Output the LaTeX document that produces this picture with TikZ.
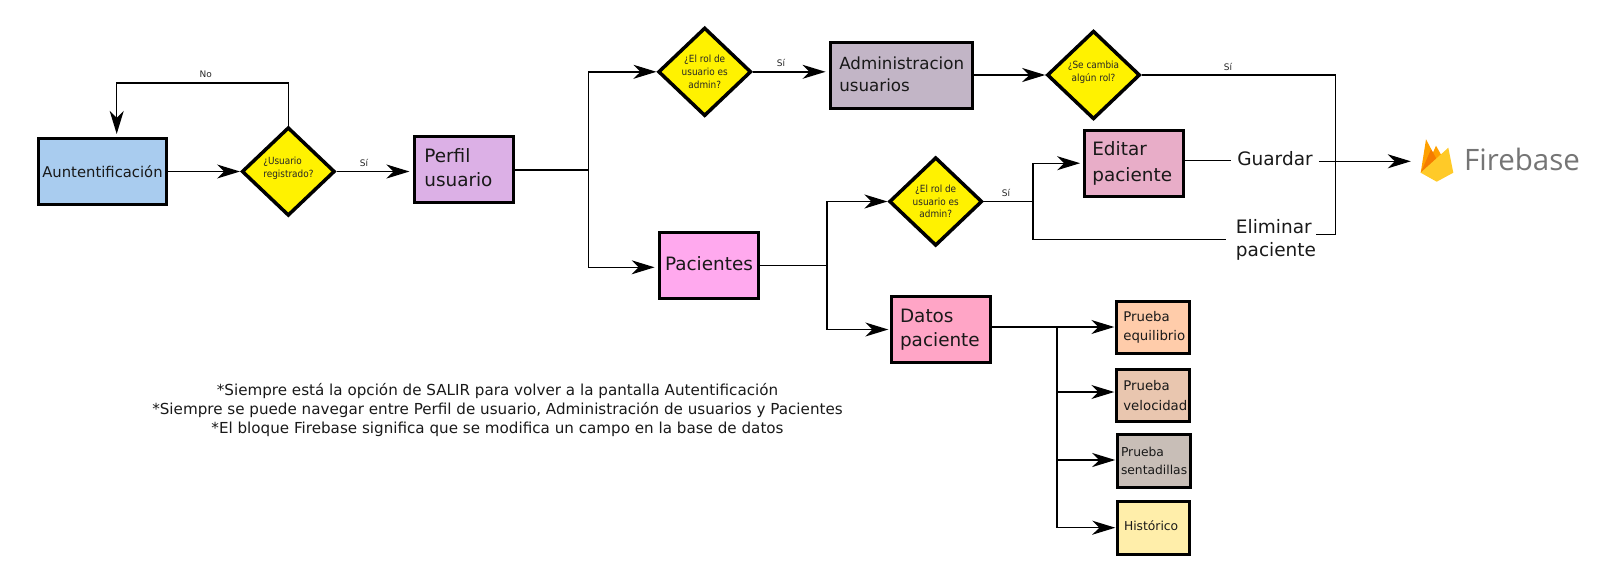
\documentclass[tikz,border=0pt]{standalone}
\usepackage{fontspec}
\setmainfont{DejaVu Sans}
\newfontfamily\dfont[FakeStretch=0.9]{DejaVu Sans}
\newfontfamily\fbfont{Open Sans}
\usetikzlibrary{arrows.meta,shapes.geometric,calc}
\definecolor{cAuth}{HTML}{A9CCEF}
\definecolor{cPerfil}{HTML}{DCB0E6}
\definecolor{cAdmin}{HTML}{C2B5C6}
\definecolor{cPac}{HTML}{FFA9EE}
\definecolor{cDatos}{HTML}{FFA5C6}
\definecolor{cEdit}{HTML}{E8ADC8}
\definecolor{cEq}{HTML}{FFCCAA}
\definecolor{cVel}{HTML}{E9C6AF}
\definecolor{cSen}{HTML}{C8BEB7}
\definecolor{cHis}{HTML}{FFEEAA}
\definecolor{cFbGray}{HTML}{757575}
\tikzset{
  x=1pt,y=-1pt,
  big/.style={font=\fontsize{18.4}{23.5}\selectfont},
  mid/.style={font=\fontsize{16.7}{22}\selectfont},
  auth/.style={font=\fontsize{14.8}{18}\selectfont},
  small/.style={font=\fontsize{13.3}{19.3}\selectfont},
  smaller/.style={font=\fontsize{12.3}{17.7}\selectfont},
  boxnode/.style n args={4}{draw=black,line width=3pt,fill=#4,rectangle,
    minimum width={#1pt+1.5pt},minimum height={#2pt+1.5pt},inner ysep=0pt,inner xsep=#3pt,
    text width={#1pt-2*#3pt},align=left,text=black!90,
    execute at begin node={\hyphenpenalty=10000\exhyphenpenalty=10000}},
  dia/.style={draw=black,line width=3.5pt,fill=yellow,diamond,shape aspect=1,
    inner sep=0pt,minimum width=93pt,minimum height=88.5pt},
  dtext/.style={font=\dfont\fontsize{9.9}{12.6}\selectfont,align=center,inner sep=0pt,text=black!85,line width=0pt},
  lab/.style={font=\fontsize{9}{11}\selectfont,inner sep=0pt,text=black!85},
  free/.style={font=\fontsize{18.5}{23.3}\selectfont,inner sep=0pt,align=left,text=black!90},
  conn/.style={draw=black,line width=1.4pt,-{Stealth[length=23pt,width=14pt,inset=7pt]}},
  wire/.style={draw=black,line width=1.4pt},
  thickwire/.style={draw=black,line width=2.2pt},
}
\begin{document}
\begin{tikzpicture}
\useasboundingbox (0,0) rectangle (1614,566);
% boxes
\node[boxnode={126.7}{63.6}{3.5}{cAuth},auth] (auth) at (102.2,171.5) {Auntentificación};
\node[boxnode={97.3}{64}{9.1}{cPerfil},big] (perfil) at (463.9,169.5) {Perfil\\usuario\par\vspace{4pt}};
\node[boxnode={141}{64}{8.5}{cAdmin},mid] (admin) at (901.3,75.5) {Administracion\\usuarios\par\vspace{3pt}};
\node[boxnode={97.7}{64.3}{5.2}{cPac},big] (pac) at (708.7,265.4) {Pacientes\par\vspace{4pt}};
\node[boxnode={97.3}{64}{7.5}{cDatos},big] (datos) at (941.2,329.5) {Datos\\paciente};
\node[boxnode={97.7}{64.7}{7.5}{cEdit},big] (editar) at (1133.7,163.2) {\vspace*{3pt}Editar\\paciente};
\node[boxnode={71.3}{51.4}{5.8}{cEq},small] (eq) at (1153.2,327.5) {Prueba\\equilibrio};
\node[boxnode={71.3}{51.4}{5.8}{cVel},small] (vel) at (1153.2,395.5) {Prueba\\velocidad};
\node[boxnode={71}{51.3}{2.5}{cSen},smaller] (sen) at (1154,461.2) {Prueba\\sentadillas};
\node[boxnode={70.5}{51.7}{5.5}{cHis},smaller] (his) at (1153.8,527.7) {Histórico\par\vspace{4pt}};
% diamonds
\node[dia,label={[dtext,yshift=3pt]center:\parbox{50pt}{\raggedright\hspace{0pt}¿Usuario\\registrado?}}] (d1) at (288.3,171.5) {};
\node[dia,label={[dtext]center:{¿El rol de\\usuario es\\admin?}}] (d2) at (704.7,71.8) {};
\node[dia,label={[dtext,yshift=3pt]center:{¿Se cambia\\algún rol?}}] (d3) at (1093.5,75) {};
\node[dia,label={[dtext]center:{¿El rol de\\usuario es\\admin?}}] (d4) at (935.7,201.5) {};
% free text
\node[free,text height=15pt,text depth=5pt] (guardar) at (1275,160.5) {Guardar};
\node[free] (elim) at (1276,239.7) {Eliminar\\paciente};
% firebase logo
\node[minimum width=32pt,minimum height=43pt,inner sep=0pt] (fblogo) at (1437,160.5) {};
\fill[color={rgb,255:red,255;green,160;blue,0}] (1420.7,172.7) -- (1426,139.3) -- (1433,152.5) -- (1436,145.7) -- (1444,160) -- (1430,172) -- cycle;
\fill[color={rgb,255:red,245;green,124;blue,0}] (1420.7,172.7) -- (1431,149.5) -- (1433,152.5) -- (1436.5,159) -- cycle;
\fill[color={rgb,255:red,255;green,202;blue,40}] (1420.7,172.7) -- (1448.3,147.7) -- (1453.3,172.7) -- (1436.7,181.7) -- cycle;
\node[font=\fbfont\fontsize{29.5}{30}\selectfont,text=cFbGray,inner sep=0pt,anchor=base west] (fbtext) at (1464,170.7) {Firebase};
% named junctions
\coordinate (noT) at (116.7,83);
\coordinate (br1) at (588.7,170);
\coordinate (br2) at (827,265.7);
\coordinate (br3) at (1033,201.5);
\coordinate (br4) at (1057,327);
\coordinate (jn) at (1335.7,234.3);
% connectors
\draw[conn] (auth.east) -- (d1.west);
\draw[conn,shorten >=3.5pt] (d1.east) -- (d1.east -| perfil.west);
\draw[conn,shorten >=3.5pt] (d1.north) |- (noT) -- (noT |- auth.north);
\draw[wire] (perfil.east |- br1) -- (br1);
\draw[conn] (br1) |- (d2.west);
\draw[conn,shorten >=3pt] (br1) |- ([yshift=-1.9pt]pac.west);
\draw[conn,shorten >=3pt] (d2.east) -- (d2.east -| admin.west);
\draw[conn] (admin.east |- d3.west) -- (d3.west);
\draw[wire] (d3.east) -| (jn) -- (jn -| elim.east);
\draw[wire] (pac.east |- br2) -- (br2);
\draw[conn] (br2) |- (d4.west);
\draw[conn,shorten >=2pt] (br2) |- (datos.west);
\draw[wire] (d4.east) -- (br3);
\draw[conn,shorten >=2.5pt] (br3) |- (editar.west);
\draw[wire,shorten >=10pt] (br3) |- (elim.west);
\draw[wire,shorten >=6.5pt] (editar.east |- guardar.west) -- (guardar.west);
\draw[conn,shorten <=6pt,shorten >=10pt] ([yshift=-0.8pt]guardar.east) -- ([yshift=-0.8pt]guardar.east -| fblogo.west);
\draw[thickwire] (datos.east |- br4) -- (br4) -- (br4 |- his.west);
\draw[conn,shorten >=1pt] (br4) -- (br4 -| eq.west);
\draw[conn,shorten >=1pt] ([yshift=3.5pt]vel.west -| br4) -- ([yshift=3.5pt]vel.west);
\draw[conn,shorten >=1pt] ([yshift=1.2pt]sen.west -| br4) -- ([yshift=1.2pt]sen.west);
\draw[conn,shorten >=1pt] (his.west -| br4) -- (his.west);
% edge labels
\node[lab] (lNo) at (205.7,74) {No};
\node[lab] (lS1) at (364,162.7) {Sí};
\node[lab] (lS2) at (781,63) {Sí};
\node[lab] (lS3) at (1228,66.7) {Sí};
\node[lab] (lS4) at (1006,192.7) {Sí};
% notes
\node[font=\fontsize{15.15}{19}\selectfont,align=center,inner sep=0pt,text=black!90] (notes) at (497.5,410) {*Siempre está la opción de SALIR para volver a la pantalla Autentificación\\*Siempre se puede navegar entre Perfil de usuario, Administración de usuarios y Pacientes\\*El bloque Firebase significa que se modifica un campo en la base de datos};
\end{tikzpicture}
\end{document}
